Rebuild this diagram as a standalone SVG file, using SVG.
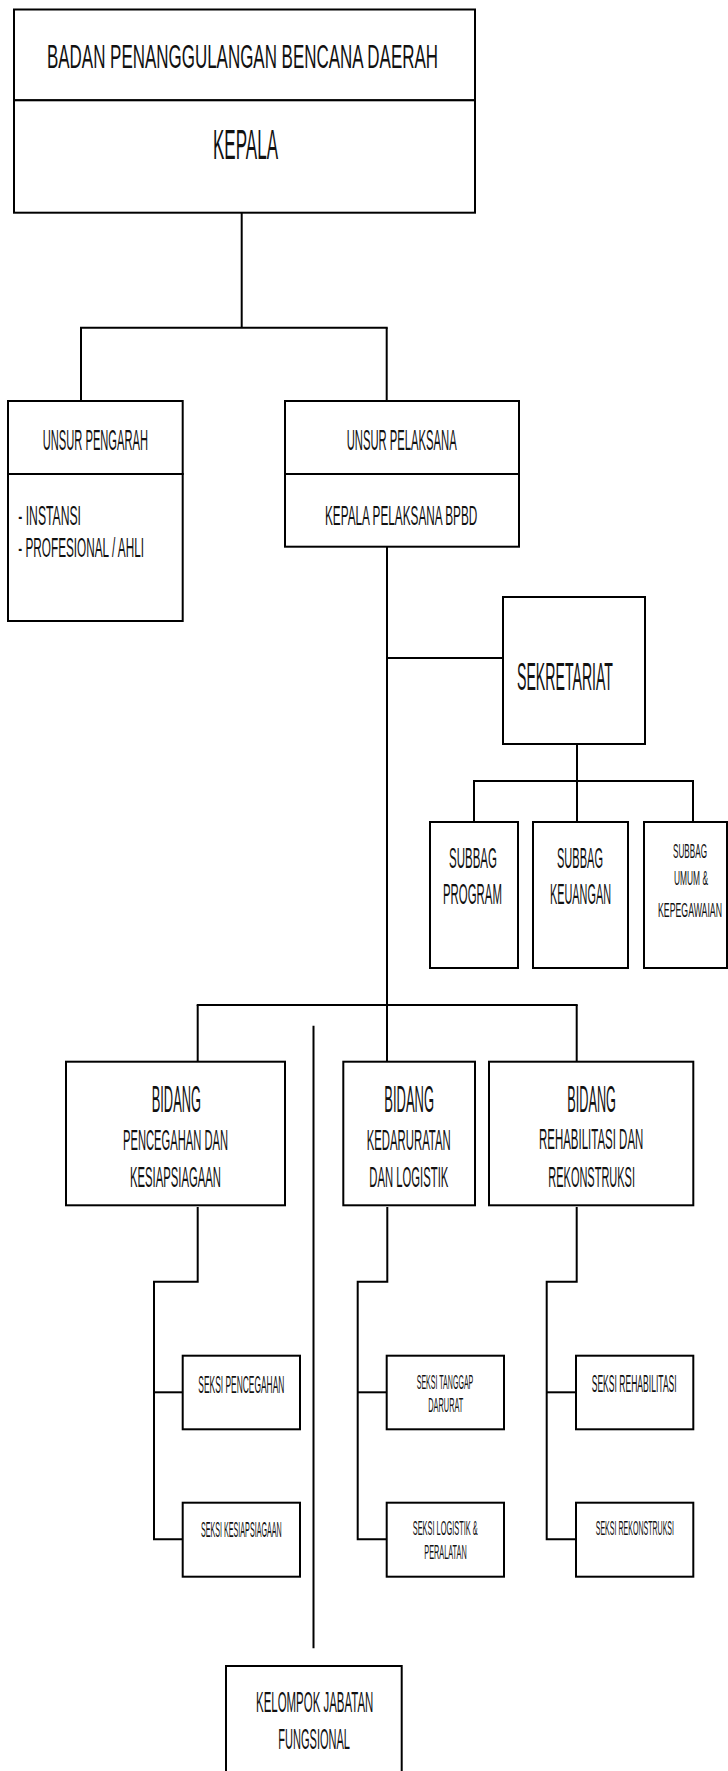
<svg xmlns="http://www.w3.org/2000/svg" width="728" height="1771" viewBox="0 0 728 1771">
<style>
.box{fill:#fff;stroke:#000;stroke-width:2}
.ln{fill:none;stroke:#000;stroke-width:2}
text{font-family:"Liberation Sans","Arial",sans-serif;fill:#111}
</style>
<rect width="728" height="1771" fill="#fff"/>
<g id="connectors">
<line class="ln" x1="241.7" y1="212.7" x2="241.7" y2="327.7"/>
<line class="ln" x1="80" y1="327.7" x2="387.7" y2="327.7"/>
<line class="ln" x1="81" y1="327.7" x2="81" y2="401"/>
<line class="ln" x1="386.7" y1="327.7" x2="386.7" y2="401"/>
<line class="ln" x1="387" y1="546.7" x2="387" y2="1062"/>
<line class="ln" x1="387" y1="658" x2="503" y2="658"/>
<line class="ln" x1="577" y1="744" x2="577" y2="781"/>
<line class="ln" x1="473" y1="781" x2="694" y2="781"/>
<line class="ln" x1="474" y1="781" x2="474" y2="822"/>
<line class="ln" x1="577" y1="781" x2="577" y2="822"/>
<line class="ln" x1="693" y1="781" x2="693" y2="822"/>
<line class="ln" x1="196.7" y1="1005" x2="577.7" y2="1005"/>
<line class="ln" x1="197.7" y1="1005" x2="197.7" y2="1062"/>
<line class="ln" x1="576.7" y1="1005" x2="576.7" y2="1062"/>
<line class="ln" x1="313.5" y1="1025.7" x2="313.5" y2="1648.3"/>
<polyline class="ln" points="197.7,1207 197.7,1281.7 154,1281.7 154,1539.3 182.7,1539.3"/>
<line class="ln" x1="154" y1="1392.3" x2="182.7" y2="1392.3"/>
<polyline class="ln" points="387.3,1207 387.3,1281.7 357.7,1281.7 357.7,1539.3 386.7,1539.3"/>
<line class="ln" x1="357.7" y1="1392.3" x2="386.7" y2="1392.3"/>
<polyline class="ln" points="576.7,1207 576.7,1281.7 546.7,1281.7 546.7,1539.3 576,1539.3"/>
<line class="ln" x1="546.7" y1="1392.3" x2="576" y2="1392.3"/>
</g>
<g id="bpbd">
<rect class="box" x="14" y="9.5" width="461" height="90.8"/>
<text transform="matrix(0.4975 0 0 1 47 68.3)" font-size="34" textLength="785.9" lengthAdjust="spacingAndGlyphs">BADAN PENANGGULANGAN BENCANA DAERAH</text>
</g>
<g id="kepala">
<rect class="box" x="14" y="100.3" width="461" height="112.4"/>
<text transform="matrix(0.393 0 0 1 213 159.3)" font-size="42.5" textLength="165.4" lengthAdjust="spacingAndGlyphs">KEPALA</text>
</g>
<g id="unsur-pengarah">
<rect class="box" x="8" y="401" width="174.7" height="73"/>
<rect class="box" x="8" y="474" width="174.7" height="147"/>
<text transform="matrix(0.3845 0 0 1 42.7 450)" font-size="29" textLength="273.9" lengthAdjust="spacingAndGlyphs">UNSUR PENGARAH</text>
<text transform="matrix(0.4447 0 0 1 18.3 525)" font-size="27" textLength="141" lengthAdjust="spacingAndGlyphs">- INSTANSI</text>
<text transform="matrix(0.4318 0 0 1 18.3 556.7)" font-size="27" textLength="291.1" lengthAdjust="spacingAndGlyphs">- PROFESIONAL / AHLI</text>
</g>
<g id="unsur-pelaksana">
<rect class="box" x="285" y="401" width="234" height="73"/>
<rect class="box" x="285" y="474" width="234" height="72.7"/>
<text transform="matrix(0.3879 0 0 1 346.7 450)" font-size="29" textLength="283.6" lengthAdjust="spacingAndGlyphs">UNSUR PELAKSANA</text>
<text transform="matrix(0.430 0 0 1 325 525)" font-size="27" textLength="354.2" lengthAdjust="spacingAndGlyphs">KEPALA PELAKSANA BPBD</text>
</g>
<g id="sekretariat">
<rect class="box" x="503" y="597" width="142" height="147"/>
<text transform="matrix(0.359 0 0 1 517 690)" font-size="38.5" textLength="267.4" lengthAdjust="spacingAndGlyphs">SEKRETARIAT</text>
</g>
<g id="subbag-program">
<rect class="box" x="430" y="822" width="88" height="146"/>
<text transform="matrix(0.384 0 0 1 449 868)" font-size="30" textLength="125" lengthAdjust="spacingAndGlyphs">SUBBAG</text>
<text transform="matrix(0.3806 0 0 1 443 904)" font-size="30" textLength="155" lengthAdjust="spacingAndGlyphs">PROGRAM</text>
</g>
<g id="subbag-keuangan">
<rect class="box" x="533" y="822" width="95" height="146"/>
<text transform="matrix(0.368 0 0 1 557 868)" font-size="30" textLength="125" lengthAdjust="spacingAndGlyphs">SUBBAG</text>
<text transform="matrix(0.3622 0 0 1 550 904)" font-size="30" textLength="168.4" lengthAdjust="spacingAndGlyphs">KEUANGAN</text>
</g>
<g id="subbag-umum">
<rect class="box" x="644" y="822" width="83" height="146"/>
<text transform="matrix(0.402 0 0 1 673 858)" font-size="20.3" textLength="84.6" lengthAdjust="spacingAndGlyphs">SUBBAG</text>
<text transform="matrix(0.413 0 0 1 674 885)" font-size="20.3" textLength="82.3" lengthAdjust="spacingAndGlyphs">UMUM &amp;</text>
<text transform="matrix(0.4267 0 0 1 658 917)" font-size="20.3" textLength="150" lengthAdjust="spacingAndGlyphs">KEPEGAWAIAN</text>
</g>
<g id="bidang-pencegahan">
<rect class="box" x="66" y="1061.7" width="219" height="143.6"/>
<text transform="matrix(0.3524 0 0 1 151.7 1111.7)" font-size="36.5" textLength="139.9" lengthAdjust="spacingAndGlyphs">BIDANG</text>
<text transform="matrix(0.3856 0 0 1 123 1150)" font-size="29" textLength="272.3" lengthAdjust="spacingAndGlyphs">PENCEGAHAN DAN</text>
<text transform="matrix(0.3894 0 0 1 130 1186.7)" font-size="29" textLength="233.7" lengthAdjust="spacingAndGlyphs">KESIAPSIAGAAN</text>
</g>
<g id="bidang-kedaruratan">
<rect class="box" x="343.3" y="1061.7" width="131.7" height="143.6"/>
<text transform="matrix(0.3553 0 0 1 384.3 1111.7)" font-size="36.5" textLength="139.9" lengthAdjust="spacingAndGlyphs">BIDANG</text>
<text transform="matrix(0.3834 0 0 1 366.7 1150)" font-size="29" textLength="219.1" lengthAdjust="spacingAndGlyphs">KEDARURATAN</text>
<text transform="matrix(0.389 0 0 1 369.3 1186.7)" font-size="29" textLength="203.1" lengthAdjust="spacingAndGlyphs">DAN LOGISTIK</text>
</g>
<g id="bidang-rehabilitasi">
<rect class="box" x="489" y="1061.7" width="204.3" height="143.6"/>
<text transform="matrix(0.3481 0 0 1 567.3 1111.7)" font-size="36.5" textLength="139.9" lengthAdjust="spacingAndGlyphs">BIDANG</text>
<text transform="matrix(0.3923 0 0 1 539 1149.3)" font-size="29" textLength="265.9" lengthAdjust="spacingAndGlyphs">REHABILITASI DAN</text>
<text transform="matrix(0.3789 0 0 1 548.3 1186.7)" font-size="29" textLength="228.8" lengthAdjust="spacingAndGlyphs">REKONSTRUKSI</text>
</g>
<g id="seksi-pencegahan">
<rect class="box" x="182.7" y="1355.7" width="117.3" height="73.6"/>
<text transform="matrix(0.3505 0 0 1 198.3 1393.3)" font-size="24" textLength="245.4" lengthAdjust="spacingAndGlyphs">SEKSI PENCEGAHAN</text>
</g>
<g id="seksi-kesiapsiagaan">
<rect class="box" x="182.7" y="1502.7" width="117.3" height="74"/>
<text transform="matrix(0.3251 0 0 1 201 1536.7)" font-size="22" textLength="248.2" lengthAdjust="spacingAndGlyphs">SEKSI KESIAPSIAGAAN</text>
</g>
<g id="seksi-tanggap-darurat">
<rect class="box" x="386.7" y="1355.7" width="117.3" height="73.6"/>
<text transform="matrix(0.3403 0 0 1 416.7 1389.3)" font-size="20.5" textLength="166.3" lengthAdjust="spacingAndGlyphs">SEKSI TANGGAP</text>
<text transform="matrix(0.3532 0 0 1 428.3 1412.3)" font-size="20.5" textLength="99.1" lengthAdjust="spacingAndGlyphs">DARURAT</text>
</g>
<g id="seksi-logistik">
<rect class="box" x="386.7" y="1502.7" width="117.3" height="74"/>
<text transform="matrix(0.3611 0 0 1 412.7 1535)" font-size="20.5" textLength="180" lengthAdjust="spacingAndGlyphs">SEKSI LOGISTIK &amp;</text>
<text transform="matrix(0.3478 0 0 1 424.3 1559)" font-size="20.5" textLength="121.9" lengthAdjust="spacingAndGlyphs">PERALATAN</text>
</g>
<g id="seksi-rehabilitasi">
<rect class="box" x="576" y="1355.7" width="117.3" height="73.6"/>
<text transform="matrix(0.354 0 0 1 591.7 1391.7)" font-size="24" textLength="240.1" lengthAdjust="spacingAndGlyphs">SEKSI REHABILITASI</text>
</g>
<g id="seksi-rekonstruksi">
<rect class="box" x="576" y="1502.7" width="117.3" height="74"/>
<text transform="matrix(0.3355 0 0 1 595.7 1535)" font-size="21" textLength="233.4" lengthAdjust="spacingAndGlyphs">SEKSI REKONSTRUKSI</text>
</g>
<g id="kelompok-jabatan-fungsional">
<rect class="box" x="226" y="1666" width="175.7" height="115"/>
<text transform="matrix(0.3892 0 0 1 256 1711.7)" font-size="29" textLength="301.4" lengthAdjust="spacingAndGlyphs">KELOMPOK JABATAN</text>
<text transform="matrix(0.3804 0 0 1 278.3 1749.3)" font-size="29" textLength="188.5" lengthAdjust="spacingAndGlyphs">FUNGSIONAL</text>
</g>
</svg>
